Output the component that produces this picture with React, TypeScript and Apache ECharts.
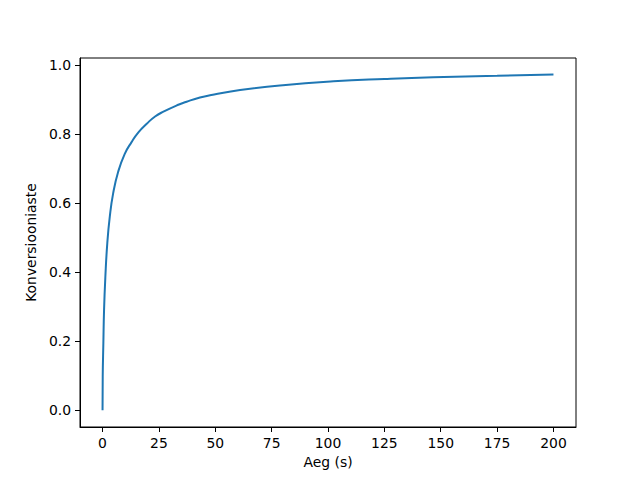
import React, { useEffect, useRef } from "react";
import * as echarts from "echarts";

const timeValues = [0, 0.08, 0.36, 0.67, 1.25, 2.1, 3.2, 4.7, 6.9, 9.8, 12.8, 15.9, 19.6, 23.3, 27, 33.6, 37.3, 43.2, 49.5, 61, 80, 102.4, 125, 146.7, 175, 200];
const conversionValues = [0, 0.098, 0.194, 0.291, 0.387, 0.484, 0.561, 0.629, 0.691, 0.743, 0.777, 0.806, 0.831, 0.852, 0.866, 0.886, 0.895, 0.907, 0.916, 0.929, 0.943, 0.954, 0.961, 0.966, 0.97, 0.974];
const xTicks = [0, 25, 50, 75, 100, 125, 150, 175, 200];
const yTicks = [0, 0.2, 0.4, 0.6, 0.8, 1.0];

export default function App() {
  const ref = useRef<HTMLDivElement>(null);
  useEffect(() => {
    if (!ref.current) return;
    const chart = echarts.init(ref.current, null, { renderer: "svg" });
    const font = "DejaVu Sans";
    chart.setOption({
      animation: false,
      backgroundColor: "#fff",
      grid: {
        left: 80,
        right: 64,
        top: 58,
        bottom: 53,
        show: true,
        borderColor: "#000",
        borderWidth: 1,
        backgroundColor: "transparent",
      },
      xAxis: {
        type: "value",
        min: -10,
        max: 210,
        name: "Aeg (s)",
        nameLocation: "middle",
        nameGap: 28,
        nameTextStyle: { fontFamily: font, fontSize: 13.9, color: "#000" },
        axisLine: { show: true, onZero: false, lineStyle: { color: "#000", width: 1 } },
        axisTick: { show: true, length: 5, lineStyle: { color: "#000" }, customValues: xTicks },
        axisLabel: {
          fontFamily: font,
          fontSize: 13.9,
          color: "#000",
          margin: 9,
          customValues: xTicks,
          formatter: (v: number) => String(v),
        },
        splitLine: { show: false },
      },
      yAxis: {
        type: "value",
        min: -0.0487,
        max: 1.0217,
        name: "Konversiooniaste",
        nameLocation: "middle",
        nameGap: 38,
        nameRotate: 90,
        nameTextStyle: { fontFamily: font, fontSize: 13.9, color: "#000" },
        axisLine: { show: true, onZero: false, lineStyle: { color: "#000", width: 1 } },
        axisTick: { show: true, length: 5, lineStyle: { color: "#000" }, customValues: yTicks },
        axisLabel: {
          fontFamily: font,
          fontSize: 13.9,
          color: "#000",
          margin: 9,
          customValues: yTicks,
          formatter: (v: number) => v.toFixed(1),
        },
        splitLine: { show: false },
      },
      series: [
        {
          type: "line",
          data: timeValues.map((t, i) => [t, conversionValues[i]]),
          showSymbol: false,
          smooth: 0.5,
          lineStyle: { color: "#1f77b4", width: 2 },
          itemStyle: { color: "#1f77b4" },
        },
      ],
    });
    return () => chart.dispose();
  }, []);
  return <div ref={ref} style={{ width: 640, height: 480, margin: -8 }} />;
}
